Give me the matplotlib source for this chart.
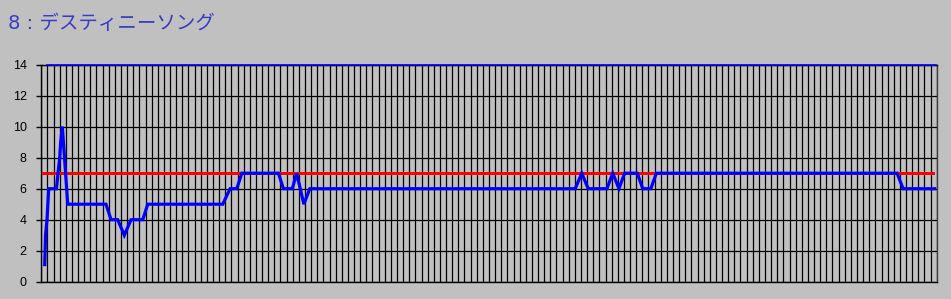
import matplotlib
matplotlib.use("Agg")
import matplotlib.pyplot as plt
import numpy as np

# ---- data (x in category units, gridlines at every integer) ----
title = "8 : デスティニーソング"
n_categories = 146
x_pos = [0.55, 0.69, 0.93, 1.21, 2.48, 2.72, 3.00, 3.16, 3.43, 4.31,
         10.55, 11.37, 12.46, 13.54, 14.63, 16.54, 17.36, 29.59, 30.78, 31.88,
         32.69, 38.66, 39.48, 40.93, 41.63, 42.81, 43.78, 87.06, 88.12, 89.18,
         92.23, 93.18, 94.19, 95.11, 97.18, 98.07, 99.38, 100.29, 139.54, 140.52,
         145.92]
values = [1, 3, 4, 6, 6, 7, 8, 9, 10, 5,
          5, 4, 4, 3, 4, 4, 5, 5, 6, 6,
          7, 7, 6, 6, 7, 5, 6, 6, 7, 6,
          6, 7, 6, 7, 7, 6, 6, 7, 7, 6,
          6]
ref_x = [0.3, 145.4]
ref_value = [7, 7]
top_x = [0.9, 145.9]
top_value = [14, 14]
y_ticks = [0, 2, 4, 6, 8, 10, 12, 14]

bg = "#c0c0c0"
fig = plt.figure(figsize=(9.51, 2.99), dpi=100, facecolor=bg)
ax = fig.add_axes([41.3 / 951, 17.3 / 299, (936.7 - 41.3) / 951, (281.7 - 64.7) / 299])
ax.set_facecolor(bg)

ax.set_xlim(0, n_categories)
ax.set_ylim(0, 14)
ax.set_xticks(np.arange(0, n_categories + 1))
ax.set_yticks(y_ticks)
ax.set_xticklabels([])
ax.tick_params(axis="x", length=0)
ax.tick_params(axis="y", length=3.6, width=1.0, color="black", pad=7,
               labelsize=9, labelcolor="black")
for lab in ax.get_yticklabels():
    lab.set_fontfamily("Liberation Sans")
ax.grid(True, color="black", linewidth=0.9)
ax.set_axisbelow(True)
for s in ax.spines.values():
    s.set_color("black")
    s.set_linewidth(1.0)
ax.spines["right"].set_color("#404040")

ax.plot(top_x, top_value, color="#0000ff", linewidth=1.2, zorder=3, clip_on=False)
ax.plot(ref_x, ref_value, color="#ff0000", linewidth=0.85, zorder=3,
        antialiased=False)
ax.plot(x_pos, values, color="#0000ff", linewidth=2.3, zorder=4,
        solid_joinstyle="miter", solid_capstyle="butt")

fig.text(8 / 951, 1 - 29.3 / 299, title, color="#3a3ac8", fontsize=14,
         family=["DejaVu Sans", "Noto Sans CJK JP"], va="baseline", ha="left")

fig.savefig("out.png", dpi=100, facecolor=bg)
